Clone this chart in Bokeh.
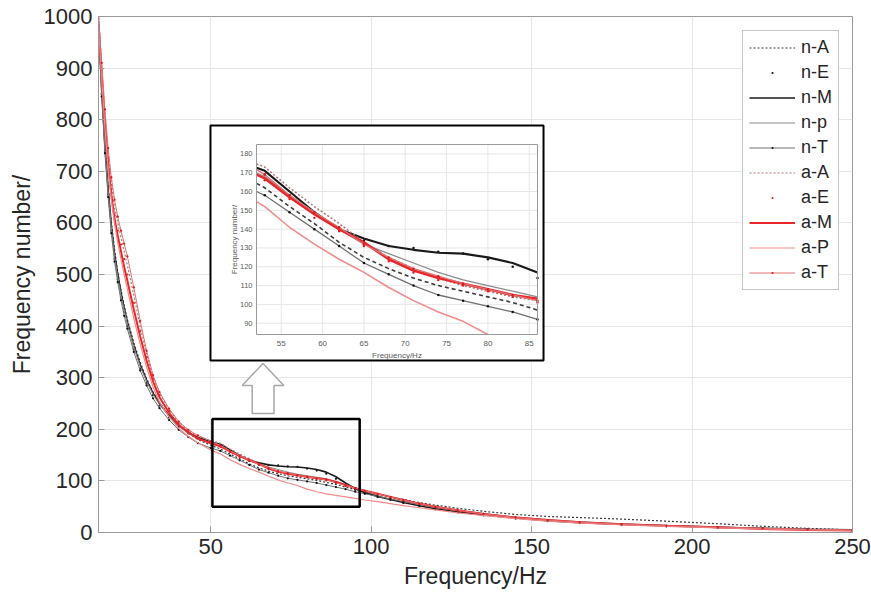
import math
from bokeh.plotting import figure
from bokeh.models import Range1d, Legend, LegendItem, BoxAnnotation, FixedTicker
from bokeh.core.properties import value
from bokeh.embed import file_html
from bokeh.resources import INLINE

# ---------------- data ----------------
freq = [15, 16, 17, 18, 19, 20, 21, 22, 23, 24,
        26, 28, 30, 32, 34,
        37, 40, 43, 46,
        50, 53, 56, 59, 62, 65, 68, 71, 74, 77, 80, 83, 86, 89, 92, 95, 98,
        102, 106, 110, 115, 120, 127, 135, 145, 155, 165, 178, 192, 208, 222, 236, 250]

n_A = [990, 865, 755, 670, 600, 548, 505, 470, 440, 413,
       368, 330, 298, 272, 252,
       228, 208, 193, 180,
       169, 162, 152, 143, 133, 125, 119, 114, 110, 107, 104, 101, 97, 93, 88, 83, 79,
       74, 69, 64, 58, 53, 47, 41, 35, 31, 29, 26, 22, 17, 12, 8, 5]
n_E = [975, 850, 740, 655, 585, 530, 490, 455, 428, 400,
       355, 318, 290, 266, 246,
       223, 205, 192, 182,
       174, 169, 158, 148, 139, 134, 131, 130, 128, 127, 124, 120, 114, 104, 93, 83, 76,
       69, 63, 57, 51, 45, 39, 33, 27, 22, 18, 15, 12, 9, 7, 6, 4]
n_M = [985, 860, 750, 665, 595, 540, 500, 465, 435, 408,
       362, 325, 295, 270, 250,
       226, 207, 194, 184,
       176, 171, 160, 149, 140, 135, 131, 129, 127.5, 127, 125, 122, 117, 108, 96, 85, 77,
       70, 64, 58, 52, 46, 40, 34, 28, 23, 19, 16, 13, 10, 8, 6, 5]
n_p = [980, 855, 745, 660, 590, 535, 495, 460, 432, 405,
       360, 322, 293, 268, 248,
       225, 206, 192, 182,
       174, 168, 158, 149, 140, 132, 127, 122, 117, 113, 110, 107, 104, 99, 93, 87, 81,
       75, 69, 63, 56, 50, 43, 37, 30, 25, 21, 17, 14, 11, 8, 6, 4]
n_T = [975, 845, 735, 650, 580, 525, 485, 450, 420, 395,
       350, 314, 285, 260, 241,
       218, 199, 185, 173,
       164, 158, 149, 140, 131, 122, 116, 110, 105, 102, 99, 96, 92, 88, 84, 79, 75,
       70, 65, 60, 54, 48, 42, 36, 29, 24, 20, 16, 13, 10, 8, 6, 4]
a_A = [1000, 905, 810, 735, 675, 630, 600, 572, 545, 518,
       460, 400, 345, 302, 270,
       238, 214, 198, 187,
       178, 173, 162, 152, 143, 133, 125, 119, 114, 110, 107, 104, 102, 97, 92, 87, 81,
       75, 69, 63, 56, 50, 43, 36, 29, 24, 20, 16, 13, 10, 8, 6, 5]
a_E = [995, 895, 800, 725, 665, 615, 585, 558, 530, 500,
       445, 390, 340, 298, 266,
       235, 211, 195, 183,
       172, 166, 156, 146, 139, 131, 123, 117, 113, 110, 107, 104, 101, 96, 90, 85, 80,
       74, 68, 62, 55, 49, 42, 35, 28, 23, 19, 15, 12, 9, 7, 5, 4]
a_M = [990, 885, 790, 715, 655, 608, 575, 545, 515, 488,
       432, 380, 333, 293, 262,
       232, 209, 194, 182,
       173, 167, 157, 148, 140, 133, 124, 118, 114, 111, 108, 105, 103, 98, 92, 86, 81,
       75, 69, 63, 56, 50, 43, 36, 29, 24, 20, 16, 13, 10, 7, 5, 4]
a_P = [985, 880, 785, 705, 645, 598, 562, 530, 500, 472,
       415, 365, 320, 282, 253,
       224, 202, 186, 174,
       160, 152, 141, 132, 124, 117, 109, 102, 96, 91, 84, 79, 75, 72, 69, 66, 63,
       60, 56, 52, 48, 44, 38, 33, 27, 22, 18, 15, 12, 9, 7, 5, 4]
a_T = [1000, 910, 820, 745, 688, 645, 612, 585, 560, 535,
       475, 410, 352, 305, 272,
       240, 215, 199, 188,
       177, 169, 158, 149, 141, 132, 125, 119, 115, 111, 108, 105, 102, 97, 91, 86, 81,
       75, 69, 63, 56, 50, 43, 36, 29, 24, 20, 16, 13, 10, 8, 6, 4]

names = ["n-A", "n-E", "n-M", "n-p", "n-T", "a-A", "a-E", "a-M", "a-P", "a-T"]
values = [n_A, n_E, n_M, n_p, n_T, a_A, a_E, a_M, a_P, a_T]

x_ticks = [50, 100, 150, 200, 250]
y_ticks = [0, 100, 200, 300, 400, 500, 600, 700, 800, 900, 1000]
inset_x_ticks = [55, 60, 65, 70, 75, 80, 85]
inset_y_ticks = [90, 100, 110, 120, 130, 140, 150, 160, 170, 180]

# zoomed region (data units) and inset axis ranges
zoom_box = dict(left=50.5, right=96.4, bottom=50, top=220)
inset_x = (52, 86)
inset_y = (84, 185)

# placement of the inset, in data units of the main axes
inset_frame = dict(left=49.9, right=153.7, bottom=333.3, top=788.8)   # black outer box
inset_axes_x = (64.245, 151.82)                                       # inner axes box
inset_axes_y = (383.72, 751.94)

# hollow arrow outline (data units of the main axes)
arrow_x = [62.9, 69.7, 69.7, 72.75, 66.27, 59.79, 62.9]
arrow_y = [230.6, 230.6, 284.9, 284.9, 327.5, 284.9, 284.9]

# ---------------- styles ----------------
FONT = "Liberation Sans"
TXT = "#262626"
AX = "#9a9a9a"
GRID = "#e6e6e6"
INSET_TXT = "#5a5a5a"

styles = {
    "n-A": dict(line="#3a3a3a", lw=1.2, dash="2 2", inset_dash="4 3"),
    "n-E": dict(marker="#111111", ms=9),
    "n-M": dict(line="#1a1a1a", lw=1.6),
    "n-p": dict(line="#8c8c8c", lw=1.0),
    "n-T": dict(line="#707070", lw=1.0, marker="#111111", ms=9),
    "a-A": dict(line="#b07878", lw=1.2, dash="2 2"),
    "a-E": dict(marker="#e31a1c", ms=9),
    "a-M": dict(line="#e8272a", lw=2.0),
    "a-P": dict(line="#f28a8a", lw=1.2),
    "a-T": dict(line="#e07070", lw=1.0, marker="#d7191c", ms=9),
}


def clip_polyline(xs, ys, x0, x1, y0, y1):
    """Clip a polyline to a rectangle (Liang-Barsky), breaks marked with NaN."""
    ox, oy = [], []
    last = None
    for i in range(len(xs) - 1):
        ax_, ay_, bx_, by_ = xs[i], ys[i], xs[i + 1], ys[i + 1]
        dx, dy = bx_ - ax_, by_ - ay_
        t0, t1, ok = 0.0, 1.0, True
        for pp, qq in ((-dx, ax_ - x0), (dx, x1 - ax_), (-dy, ay_ - y0), (dy, y1 - ay_)):
            if pp == 0:
                if qq < 0:
                    ok = False
                    break
            else:
                r = qq / pp
                if pp < 0:
                    if r > t1:
                        ok = False
                        break
                    t0 = max(t0, r)
                else:
                    if r < t0:
                        ok = False
                        break
                    t1 = min(t1, r)
        if not ok:
            continue
        sx, sy = ax_ + t0 * dx, ay_ + t0 * dy
        ex, ey = ax_ + t1 * dx, ay_ + t1 * dy
        if last is None or abs(last[0] - sx) > 1e-9 or abs(last[1] - sy) > 1e-9:
            if ox:
                ox.append(math.nan)
                oy.append(math.nan)
            ox.append(sx)
            oy.append(sy)
        ox.append(ex)
        oy.append(ey)
        last = (ex, ey)
    return ox, oy


def draw(api, scale=1.0, mscale=1.0, clip=None):
    out = {}
    for name, vals in zip(names, values):
        st = styles[name]
        rs = []
        if "line" in st:
            kw = dict(line_color=st["line"], line_width=st["lw"] * scale)
            dash = st.get("inset_dash", st.get("dash")) if clip is not None else st.get("dash")
            if dash:
                kw["line_dash"] = dash
            lx, ly = (freq, vals) if clip is None else clip_polyline(freq, vals, *clip)
            rs.append(api.line(lx, ly, **kw))
        if "marker" in st:
            if clip is None:
                mx, my = freq, vals
            else:
                pts = [(a, b) for a, b in zip(freq, vals)
                       if clip[0] <= a <= clip[1] and clip[2] <= b <= clip[3]]
                mx, my = [a for a, _ in pts], [b for _, b in pts]
            rs.append(api.scatter(mx, my, marker="dot", size=st["ms"] * mscale,
                                  fill_color=st["marker"], line_color=st["marker"]))
        out[name] = rs
    return out


# ---------------- main figure ----------------
p = figure(width=871, height=599, x_range=Range1d(15, 250), y_range=Range1d(0, 1000),
           output_backend="svg", toolbar_location=None,
           min_border_left=98, min_border_right=19, min_border_top=16, min_border_bottom=67,
           background_fill_color="white", border_fill_color="white",
           outline_line_color=AX)
p.xaxis.ticker = FixedTicker(ticks=x_ticks)
p.yaxis.ticker = FixedTicker(ticks=y_ticks)
p.xaxis.axis_label = "Frequency/Hz"
p.yaxis.axis_label = "Frequency number/"
for ax in p.axis:
    ax.axis_line_color = AX
    ax.major_tick_line_color = AX
    ax.major_tick_in = 6
    ax.major_tick_out = 0
    ax.minor_tick_line_color = None
    ax.major_label_text_font = FONT
    ax.major_label_text_font_size = "22px"
    ax.major_label_text_color = TXT
    ax.major_label_standoff = 6
    ax.axis_label_text_font = FONT
    ax.axis_label_text_font_size = "23px"
    ax.axis_label_text_font_style = "normal"
    ax.axis_label_text_color = TXT
    ax.axis_label_standoff = 6
p.grid.grid_line_color = GRID

rend = draw(p)

# white inset panel with black border (under the glyphs, above the grid)
p.add_layout(BoxAnnotation(left=inset_frame["left"], right=inset_frame["right"],
                           bottom=inset_frame["bottom"], top=inset_frame["top"],
                           fill_color="white", fill_alpha=1.0, line_color="black",
                           line_alpha=1.0, line_width=2, level="underlay"))
# zoom rectangle
p.add_layout(BoxAnnotation(left=zoom_box["left"], right=zoom_box["right"],
                           bottom=zoom_box["bottom"], top=zoom_box["top"],
                           fill_color=None, fill_alpha=0, line_color="black",
                           line_alpha=1.0, line_width=2.5))
# hollow arrow
p.patch(arrow_x, arrow_y, fill_color="white", line_color="#a8a8a8", line_width=1.5)

# ---------------- inset axes (sub-coordinates) ----------------
sub = p.subplot(x_source=Range1d(*inset_x), y_source=Range1d(*inset_y),
                x_target=Range1d(*inset_axes_x), y_target=Range1d(*inset_axes_y))

# grid
sub.segment(x0=inset_x_ticks, y0=[inset_y[0]] * len(inset_x_ticks),
            x1=inset_x_ticks, y1=[inset_y[1]] * len(inset_x_ticks),
            line_color=GRID, line_width=1)
sub.segment(x0=[inset_x[0]] * len(inset_y_ticks), y0=inset_y_ticks,
            x1=[inset_x[1]] * len(inset_y_ticks), y1=inset_y_ticks,
            line_color=GRID, line_width=1)

draw(sub, scale=1.3, mscale=1.1, clip=(inset_x[0], inset_x[1], inset_y[0], inset_y[1]))

# axes box
sub.quad(left=[inset_x[0]], right=[inset_x[1]], bottom=[inset_y[0]], top=[inset_y[1]],
         fill_color=None, line_color=AX, line_width=1)

# tick labels
sub.text(x=inset_x_ticks, y=[inset_y[0]] * len(inset_x_ticks),
         text=[str(t) for t in inset_x_ticks], y_offset=9,
         text_align="center", text_baseline="middle",
         text_font_size=value("8px"), text_color=INSET_TXT, text_font=value(FONT))
sub.text(x=[inset_x[0]] * len(inset_y_ticks), y=inset_y_ticks,
         text=[str(t) for t in inset_y_ticks], x_offset=-4,
         text_align="right", text_baseline="middle",
         text_font_size=value("7.5px"), text_color=INSET_TXT, text_font=value(FONT))
# axis titles
sub.text(x=[(inset_x[0] + inset_x[1]) / 2], y=[inset_y[0]], text=["Frequency/Hz"],
         y_offset=21, text_align="center", text_baseline="middle",
         text_font_size=value("8px"), text_color=INSET_TXT, text_font=value(FONT))
sub.text(x=[inset_x[0]], y=[(inset_y[0] + inset_y[1]) / 2], text=["Frequency number/"],
         x_offset=-22, angle=math.pi / 2, text_align="center", text_baseline="middle",
         text_font_size=value("8px"), text_color=INSET_TXT, text_font=value(FONT))

# ---------------- legend ----------------
legend = Legend(items=[LegendItem(label=n, renderers=rend[n]) for n in names],
                location=(644, 242), orientation="vertical",
                label_text_font=FONT, label_text_font_size="18px", label_text_color=TXT,
                glyph_width=46, glyph_height=21, label_height=21, label_standoff=6,
                spacing=4, padding=6, margin=0,
                border_line_color="#8c8c8c", border_line_width=1,
                background_fill_color="white", background_fill_alpha=1.0)
p.add_layout(legend)

open("out.html", "w").write(file_html(p, INLINE))
